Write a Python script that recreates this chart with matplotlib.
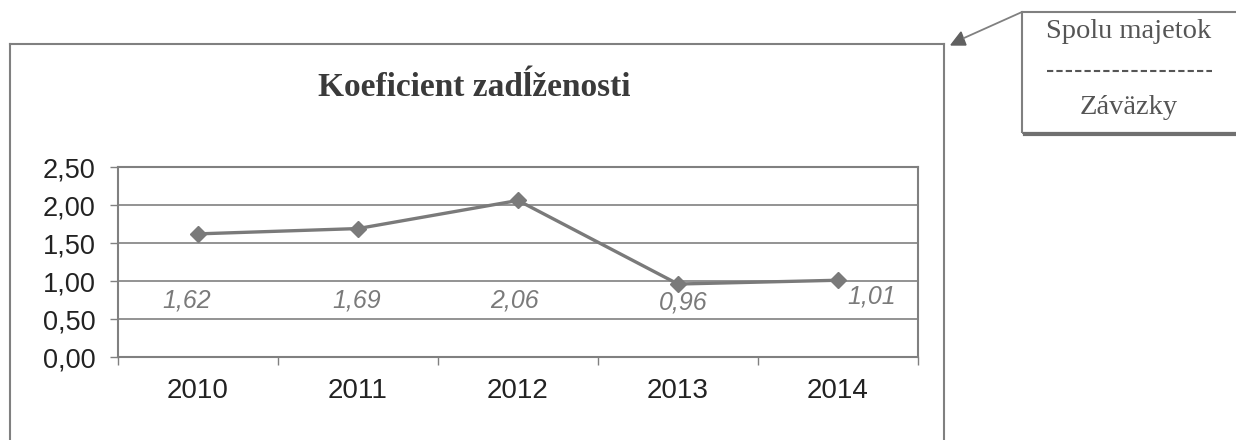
import matplotlib
matplotlib.use("Agg")
import matplotlib.pyplot as plt
from matplotlib.patches import Rectangle, Polygon
from matplotlib.lines import Line2D

years = ["2010", "2011", "2012", "2013", "2014"]
values = [1.62, 1.69, 2.06, 0.96, 1.01]
labels = ["1,62", "1,69", "2,06", "0,96", "1,01"]
yticks = [0.0, 0.5, 1.0, 1.5, 2.0, 2.5]
ytick_labels = ["0,00", "0,50", "1,00", "1,50", "2,00", "2,50"]
title = "Koeficient zadĺženosti"
callout_top = "Spolu majetok"
callout_bottom = "Záväzky"

W, H = 1236, 440
fig = plt.figure(figsize=(W / 100, H / 100), dpi=100)
fig.patch.set_facecolor("white")

def fx(px):
    return px / W

def fy(py):
    return 1 - py / H

grey = "#808080"

# outer chart frame
fig.add_artist(Line2D([fx(10), fx(944)], [fy(44), fy(44)], color=grey, lw=1.5))
fig.add_artist(Line2D([fx(10), fx(10)], [fy(44), fy(445)], color=grey, lw=1.5))
fig.add_artist(Line2D([fx(944), fx(944)], [fy(44), fy(445)], color=grey, lw=1.5))

# title
fig.text(fx(474), fy(88), title, ha="center", va="center", fontsize=24,
         fontweight="bold", family="Liberation Serif", color="#3a3a3a")

# axes
ax = fig.add_axes([fx(118), fy(357), fx(918) - fx(118), (357 - 167) / H])
x = list(range(len(years)))
ax.plot(x, values, color="#7a7a7a", lw=2.4, marker="D", markersize=8.5,
        markerfacecolor="#7a7a7a", markeredgecolor="#7a7a7a", zorder=3)
ax.set_xlim(-0.5, len(years) - 0.5)
ax.set_ylim(0, 2.5)
ax.set_yticks(yticks)
ax.set_yticklabels(ytick_labels, family="Liberation Sans", fontsize=19.5, color="#222222")
ax.yaxis.grid(True, color="#8a8a8a", lw=1.3)
ax.set_axisbelow(True)
ax.set_xticks(x)
ax.set_xticklabels(years, family="Liberation Sans", fontsize=20, color="#222222")
ax.tick_params(axis="x", which="major", length=0, pad=15)
ax.set_xticks([i - 0.5 for i in range(len(years) + 1)], minor=True)
ax.tick_params(axis="x", which="minor", length=6, color=grey, width=1)
ax.tick_params(axis="y", length=6, color=grey, width=1, pad=10)
for s in ax.spines.values():
    s.set_color(grey)
    s.set_linewidth(1.5)

# data labels
label_offsets = [(-0.07, 0.75), (-0.01, 0.75), (-0.02, 0.75), (0.03, 0.72), (0.21, 0.79)]
for i, (lab, (dx, yy)) in enumerate(zip(labels, label_offsets)):
    ax.text(i + dx, yy, lab, ha="center", va="center", fontsize=18, style="italic",
            family="Liberation Sans", color="#7a7a7a")

# callout box
box_l, box_t, box_r, box_b = 1022, 12, 1240, 133
fig.add_artist(Rectangle((fx(box_l), fy(box_b)), fx(box_r) - fx(box_l), (box_b - box_t) / H,
                         fill=False, edgecolor=grey, lw=1.5))
fig.add_artist(Line2D([fx(box_l + 3), fx(box_r)], [fy(box_b + 1.5), fy(box_b + 1.5)],
                      color="#707070", lw=3))
fig.text(fx(1129), fy(31), callout_top, ha="center", va="center", fontsize=20.5,
         family="Liberation Serif", color="#555555")
fig.add_artist(Line2D([fx(1047), fx(1212)], [fy(71), fy(71)], color="#555555",
                      lw=1.5, ls=(0, (3, 1.5))))
fig.text(fx(1129), fy(107), callout_bottom, ha="center", va="center", fontsize=20.5,
         family="Liberation Serif", color="#555555")
fig.add_artist(Line2D([fx(box_l), fx(964)], [fy(box_t), fy(38)], color=grey, lw=1.3))
fig.add_artist(Polygon([[fx(951), fy(45)], [fx(966), fy(45)], [fx(961), fy(32)]],
                       closed=True, facecolor="#606060", edgecolor="#606060"))

fig.savefig("out.png", dpi=100, facecolor="white")
